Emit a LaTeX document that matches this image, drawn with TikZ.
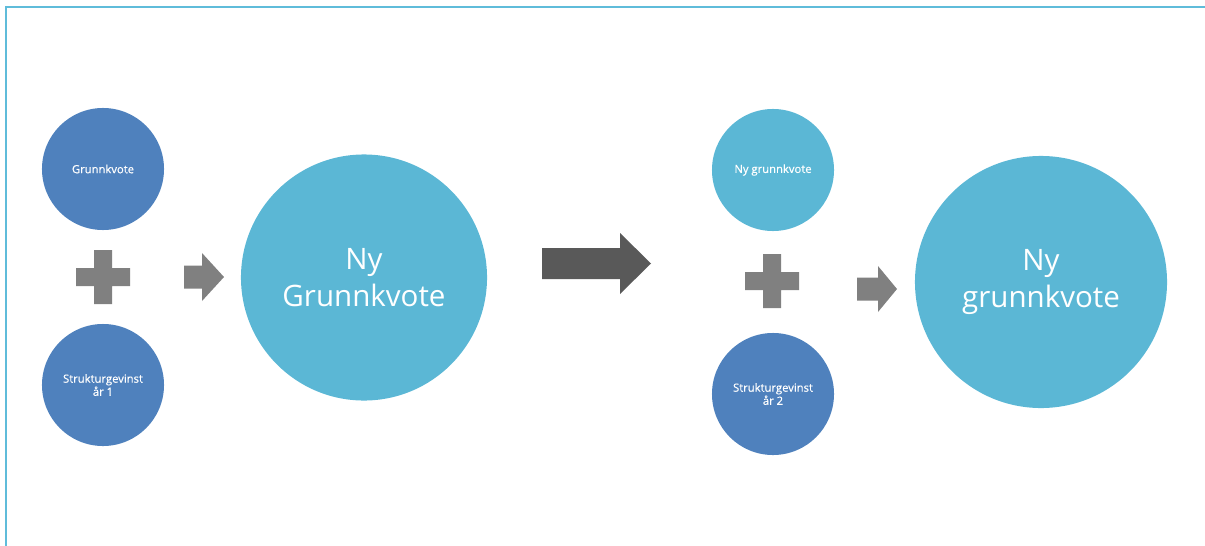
\documentclass[tikz,border=0pt]{standalone}
\usepackage{fontspec}
\setmainfont{Open Sans}
\newfontfamily\smalltekst[FakeBold=0.4]{Open Sans}
\definecolor{kvoteblue}{RGB}{79,129,189}
\definecolor{nyblue}{RGB}{91,183,213}
\definecolor{rammeblue}{RGB}{95,188,218}
\definecolor{plusgray}{RGB}{128,128,128}
\definecolor{pildark}{RGB}{89,89,89}

\begin{document}
\begin{tikzpicture}[x=0.025cm, y=-0.025cm,
  smallcirc/.style={circle, fill=kvoteblue, draw=none, minimum size=3.05cm, inner sep=0pt,
    text=white, align=center, font=\smalltekst\fontsize{8}{9.3}\selectfont},
  bigcirc/.style={circle, fill=nyblue, draw=none, minimum size=6.15cm, inner sep=0pt,
    text=white, align=center, font=\fontsize{21}{26.5}\selectfont}]
  \useasboundingbox (0,0) rectangle (1205,546);
  % ramme
  \draw[rammeblue, line width=1.4pt] (6,546) -- (6,7) -- (1205,7);

  % aar 1
  \node[smallcirc] (kvote1) at (103,169) {Grunnkvote};
  \node[smallcirc] (gevinst1) at (103,385) {Strukturgevinst\\år 1};
  \fill[plusgray, shift={(103,277)}] (-9,-27) -- (9,-27) -- (9,-9) -- (27,-9) -- (27,9) -- (9,9)
    -- (9,27) -- (-9,27) -- (-9,9) -- (-27,9) -- (-27,-9) -- (-9,-9) -- cycle;
  \fill[plusgray, shift={(184,277)}] (0,-11.5) -- (18,-11.5) -- (18,-24) -- (40,0) -- (18,24)
    -- (18,11.5) -- (0,11.5) -- cycle;
  \node[bigcirc] (ny1) at (364,277.5) {Ny\\Grunnkvote};

  % stor pil
  \fill[pildark, shift={(542,263.5)}] (0,-15.5) -- (78,-15.5) -- (78,-30.5) -- (109,0) -- (78,30.5)
    -- (78,15.5) -- (0,15.5) -- cycle;

  % aar 2
  \node[smallcirc, fill=nyblue] (kvote2) at (773,170) {Ny grunnkvote};
  \node[smallcirc] (gevinst2) at (773,394) {Strukturgevinst\\år 2};
  \fill[plusgray, shift={(772,281)}] (-9,-27) -- (9,-27) -- (9,-9) -- (27,-9) -- (27,9) -- (9,9)
    -- (9,27) -- (-9,27) -- (-9,9) -- (-27,9) -- (-27,-9) -- (-9,-9) -- cycle;
  \fill[plusgray, shift={(857,289)}] (0,-11.5) -- (21,-11.5) -- (21,-23) -- (40,0) -- (21,23)
    -- (21,11.5) -- (0,11.5) -- cycle;
  \node[bigcirc, minimum size=6.3cm] (ny2) at (1041,282) {Ny\\grunnkvote};
\end{tikzpicture}
\end{document}
